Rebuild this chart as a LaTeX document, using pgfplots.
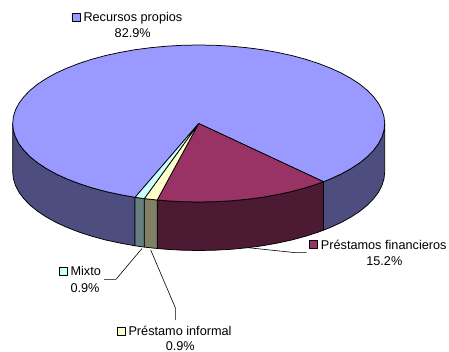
\documentclass[border=0pt]{standalone}
\usepackage{fontspec}
\setmainfont{Liberation Sans}
\usepackage{pgfplots}
\pgfplotsset{compat=1.18}
\definecolor{recT}{HTML}{9999FF}\definecolor{recS}{HTML}{4D4D80}
\definecolor{preT}{HTML}{993366}\definecolor{preS}{HTML}{4D1A33}
\definecolor{infT}{HTML}{FFFFCC}\definecolor{infS}{HTML}{808066}
\definecolor{mixT}{HTML}{CCFFFF}\definecolor{mixS}{HTML}{668080}
\newcommand{\lab}{\fontsize{12.7}{15}\selectfont}
\begin{document}
\begin{tikzpicture}[x=1pt,y=1pt]
\useasboundingbox (0,0) rectangle (449,352);
\begin{axis}[
  at={(0,0)},anchor=south west,
  scale only axis,width=449pt,height=352pt,
  xmin=0,xmax=449,ymin=0,ymax=352,y dir=reverse,
  axis lines=none,clip=false,
  every axis plot/.append style={no markers,line join=round,line width=0.75pt,draw=black},
]
% Side walls of the disc, back to front
\addplot[fill=recS] coordinates {(384.7,123.5)(384.0,130.3)(381.9,137.1)(378.4,143.8)(373.5,150.3)(367.3,156.7)(359.8,162.8)(351.1,168.5)(341.2,174.0)(330.2,179.0)(323.4,181.7)
 (323.4,230.2)(330.2,227.5)(341.2,222.5)(351.1,217.0)(359.8,211.3)(367.3,205.2)(373.5,198.8)(378.4,192.3)(381.9,185.6)(384.0,178.8)(384.7,172.0)(384.7,123.5)};
\addplot[fill=recS] coordinates {(135.1,197.3)(120.1,194.6)(105.7,191.5)(92.0,187.8)(79.1,183.6)(67.2,179.0)(56.2,174.0)(46.3,168.5)(37.6,162.8)(30.1,156.7)(23.9,150.3)(19.0,143.8)(15.5,137.1)(13.4,130.3)(12.7,123.5)
 (12.7,172.0)(13.4,178.8)(15.5,185.6)(19.0,192.3)(23.9,198.8)(30.1,205.2)(37.6,211.3)(46.3,217.0)(56.2,222.5)(67.2,227.5)(79.1,232.1)(92.0,236.3)(105.7,240.0)(120.1,243.1)(135.1,245.8)(135.1,197.3)};
\addplot[fill=preS] coordinates {(323.4,181.7)(318.3,183.6)(305.4,187.8)(291.7,191.5)(277.3,194.6)(262.3,197.3)(246.8,199.3)(231.0,200.8)(214.9,201.7)(198.7,202.0)(182.5,201.7)(166.4,200.8)(157.2,200.0)
 (157.2,248.5)(166.4,249.3)(182.5,250.2)(198.7,250.5)(214.9,250.2)(231.0,249.3)(246.8,247.8)(262.3,245.8)(277.3,243.1)(291.7,240.0)(305.4,236.3)(318.3,232.1)(323.4,230.2)(323.4,181.7)};
\addplot[fill=infS] coordinates {(157.2,200.0)(150.6,199.3)(144.3,198.6)(144.3,247.1)(150.6,247.8)(157.2,248.5)(157.2,200.0)};
\addplot[fill=mixS] coordinates {(144.3,198.6)(135.1,197.3)(135.1,245.8)(144.3,247.1)(144.3,198.6)};
% Top faces of the slices
\addplot[fill=recT] coordinates {(198.7,123.5)(135.1,197.3)(120.1,194.6)(105.7,191.5)(92.0,187.8)(79.1,183.6)(67.2,179.0)(56.2,174.0)(46.3,168.5)(37.6,162.8)(30.1,156.7)(23.9,150.3)(19.0,143.8)(15.5,137.1)(13.4,130.3)(12.7,123.5)
 (13.4,116.7)(15.5,109.9)(19.0,103.2)(23.9,96.7)(30.1,90.3)(37.6,84.2)(46.3,78.5)(56.2,73.0)(67.2,68.0)(79.1,63.4)(92.0,59.2)(105.7,55.5)(120.1,52.4)(135.1,49.7)(150.6,47.7)(166.4,46.2)(182.5,45.3)(198.7,45.0)
 (214.9,45.3)(231.0,46.2)(246.8,47.7)(262.3,49.7)(277.3,52.4)(291.7,55.5)(305.4,59.2)(318.3,63.4)(330.2,68.0)(341.2,73.0)(351.1,78.5)(359.8,84.2)(367.3,90.3)(373.5,96.7)(378.4,103.2)(381.9,109.9)(384.0,116.7)
 (384.7,123.5)(384.0,130.3)(381.9,137.1)(378.4,143.8)(373.5,150.3)(367.3,156.7)(359.8,162.8)(351.1,168.5)(341.2,174.0)(330.2,179.0)(323.4,181.7)(198.7,123.5)};
\addplot[fill=preT] coordinates {(198.7,123.5)(323.4,181.7)(318.3,183.6)(305.4,187.8)(291.7,191.5)(277.3,194.6)(262.3,197.3)(246.8,199.3)(231.0,200.8)(214.9,201.7)(198.7,202.0)(182.5,201.7)(166.4,200.8)(157.2,200.0)(198.7,123.5)};
\addplot[fill=infT] coordinates {(198.7,123.5)(157.2,200.0)(150.6,199.3)(144.3,198.6)(198.7,123.5)};
\addplot[fill=mixT] coordinates {(198.7,123.5)(144.3,198.6)(135.1,197.3)(198.7,123.5)};
% Leader lines
\addplot[line width=0.6pt] coordinates {(142,248.5)(116,279.3)(104,279.3)};
\addplot[line width=0.6pt] coordinates {(150.7,250)(175.3,307.7)(175.3,320)};
\addplot[line width=0.6pt] coordinates {(248,247.7)(295.7,252.7)(306.7,252.7)};
% Legend keys beside the labels
\addplot[fill=recT,line width=0.6pt] coordinates {(71.8,13.5)(80,13.5)(80,21.7)(71.8,21.7)(71.8,13.5)};
\addplot[fill=preT,line width=0.6pt] coordinates {(309.3,240.5)(317.4,240.5)(317.4,248.7)(309.3,248.7)(309.3,240.5)};
\addplot[fill=mixT,line width=0.6pt] coordinates {(58.8,267.2)(66.8,267.2)(66.8,275.3)(58.8,275.3)(58.8,267.2)};
\addplot[fill=infT,line width=0.6pt] coordinates {(116.8,326.8)(125,326.8)(125,335)(116.8,335)(116.8,326.8)};
% Labels
\node[anchor=base west,inner sep=0pt,font=\lab] at (axis cs:83.3,22) {Recursos propios};
\node[anchor=base,inner sep=0pt,font=\lab] at (axis cs:132.7,38) {82.9\%};
\node[anchor=base west,inner sep=0pt,font=\lab] at (axis cs:320.7,249.3) {Préstamos financieros};
\node[anchor=base,inner sep=0pt,font=\lab] at (axis cs:384.3,265.3) {15.2\%};
\node[anchor=base west,inner sep=0pt,font=\lab] at (axis cs:70.3,276) {Mixto};
\node[anchor=base,inner sep=0pt,font=\lab] at (axis cs:85,292) {0.9\%};
\node[anchor=base west,inner sep=0pt,font=\lab] at (axis cs:128.3,335.3) {Préstamo informal};
\node[anchor=base,inner sep=0pt,font=\lab] at (axis cs:180.3,350.7) {0.9\%};
\end{axis}
\end{tikzpicture}
\end{document}
